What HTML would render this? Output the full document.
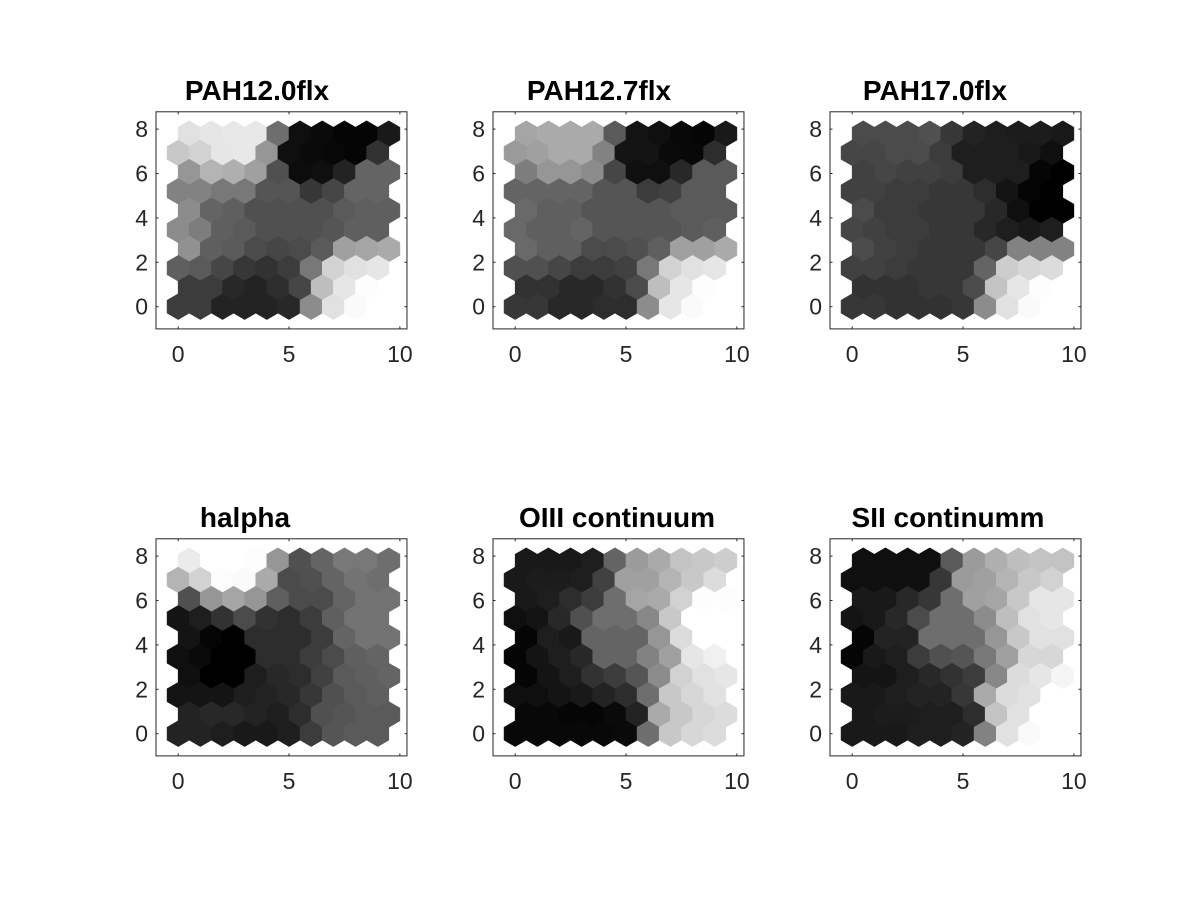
<!DOCTYPE html>
<html><head><meta charset="utf-8"><style>
html,body{margin:0;padding:0;background:#fff;}
svg{display:block;font-family:"Liberation Sans",Arial,sans-serif;}
</style></head><body>
<svg id="fig" width="1200" height="900" viewBox="0 0 1200 900" xmlns="http://www.w3.org/2000/svg">
<rect width="1200" height="900" fill="#fff"/>
</svg>
<script>
// Grey levels (0=black, 255=white), rows listed from top (row 9) to bottom (row 0), 10 columns each
const titles = ["PAH12.0flx","PAH12.7flx","PAH17.0flx","halpha","OIII continuum","SII continumm"];
const xTicks = [0,5,10];
const yTicks = [0,2,4,6,8];
const pah120 = [
[225,230,232,232,110,15,10,5,5,25],
[200,210,230,232,150,15,10,8,5,50],
[150,180,175,160,80,12,15,35,100,100],
[130,130,120,120,85,85,55,70,100,100],
[140,100,95,80,80,80,80,90,95,95],
[140,125,95,90,80,80,80,85,95,95],
[145,95,90,75,70,75,90,160,165,170],
[95,90,70,55,50,60,120,210,225,230],
[60,60,40,35,45,70,190,230,253,255],
[60,60,35,35,35,40,140,225,250,255]];
const pah127 = [
[165,170,170,170,90,20,15,8,5,25],
[155,160,170,170,130,20,20,10,8,45],
[125,150,150,140,70,15,15,40,90,90],
[100,100,100,100,85,85,60,65,90,90],
[105,95,95,85,85,85,85,90,90,90],
[105,95,95,100,85,85,85,85,90,95],
[105,95,95,75,75,80,95,160,160,170],
[80,80,70,60,60,65,120,210,225,230],
[50,50,40,40,50,75,190,230,253,255],
[55,55,40,40,45,45,140,230,250,255]];
const pah170 = [
[75,75,75,80,55,35,30,28,28,25],
[70,70,75,75,60,30,30,30,25,15],
[65,70,65,65,60,30,30,30,5,0],
[65,65,60,60,55,55,45,20,5,0],
[75,60,60,55,55,55,40,15,0,0],
[70,65,60,60,55,55,40,30,25,30],
[75,65,60,55,55,55,70,130,130,130],
[65,65,60,55,55,55,100,205,215,220],
[50,50,50,55,55,75,195,230,253,255],
[55,55,50,50,50,55,140,225,250,255]];
const halpha = [
[235,255,255,252,150,80,100,120,120,110],
[180,210,252,250,170,75,80,100,115,110],
[80,150,165,150,95,75,75,100,115,115],
[20,30,50,75,50,45,60,95,115,115],
[20,5,0,45,45,45,60,100,115,115],
[15,10,0,0,45,45,60,75,95,100],
[15,0,0,30,40,45,65,90,95,100],
[20,20,20,30,35,40,55,80,90,95],
[35,40,40,35,30,45,80,85,90,90],
[35,35,30,25,25,30,60,85,90,90]];
const oiii = [
[25,25,25,30,100,155,170,195,200,205],
[25,28,28,30,65,160,160,180,200,220],
[25,30,45,60,110,165,170,210,253,253],
[15,20,40,80,110,110,135,200,255,255],
[5,30,25,100,100,100,150,220,255,255],
[5,20,30,40,100,100,130,160,230,240],
[5,20,30,50,60,85,140,210,225,230],
[15,15,20,25,35,45,110,200,215,225],
[8,8,5,5,10,35,170,200,215,220],
[8,8,8,8,8,10,110,200,215,220]];
const sii = [
[15,15,15,15,90,155,175,190,195,195],
[15,15,15,15,55,155,160,180,200,210],
[25,25,40,55,110,160,165,200,230,230],
[20,25,40,75,110,110,140,190,225,230],
[5,35,35,110,110,110,150,200,225,225],
[5,25,30,60,80,85,120,160,215,215],
[20,20,30,40,50,60,135,220,230,245],
[25,25,30,35,35,55,170,220,225,255],
[25,28,28,30,30,45,195,225,255,255],
[25,25,25,30,30,35,130,225,250,255]];
const planes = [pah120,pah127,pah170,halpha,oiii,sii];

const NS = "http://www.w3.org/2000/svg";
const svg = document.getElementById("fig");
const panelLeft = [156,493,830,156,493,830];
const panelY0 = [306.7,306.7,306.7,733.7,733.7,733.7];
const titleX = [257,599,935,245,617,948];
const SX = 22.17, SY = 22.2;
function mk(tag, attrs, parent){const e=document.createElementNS(NS,tag);for(const k in attrs)e.setAttribute(k,attrs[k]);parent.appendChild(e);return e;}

planes.forEach((data,p)=>{
  const L = panelLeft[p], Y0 = panelY0[p];
  const X = x => L + (x+1)*SX;
  const Y = y => Y0 - y*SY;
  const g = mk("g",{},svg);
  
  
  const nRows = data.length;
  data.forEach((row,ri)=>{
    const r = nRows-1-ri;
    row.forEach((v,c)=>{
      const cx = c + 0.5*(r%2), cy = r*0.8660254;
      const pts = [[0,0.57735],[0.5,0.288675],[0.5,-0.288675],[0,-0.57735],[-0.5,-0.288675],[-0.5,0.288675]]
        .map(d=>X(cx+d[0]).toFixed(2)+","+Y(cy+d[1]).toFixed(2)).join(" ");
      const col = "rgb("+v+","+v+","+v+")";
      const h = mk("polygon",{points:pts,fill:col,stroke:col,"stroke-width":0.6},g);
      
      
    });
  });
  const top = Y(8.78), bot = Y(-1), left = X(-1), right = X(10.32);
  const box = mk("rect",{x:left,y:top,width:right-left,height:bot-top,fill:"none",stroke:"#262626","stroke-width":1},g);
  
  
  xTicks.forEach(t=>{
    const x = X(t);
    mk("line",{x1:x,x2:x,y1:bot,y2:bot-2.5,stroke:"#262626"},g);
    mk("line",{x1:x,x2:x,y1:top,y2:top+2.5,stroke:"#262626"},g);
    const tx = mk("text",{x:x,y:bot+33,"text-anchor":"middle","font-size":23,fill:"#262626"},g);
    tx.textContent = t;
    
    
  });
  yTicks.forEach(t=>{
    const y = Y(t);
    mk("line",{x1:left,x2:left+2.5,y1:y,y2:y,stroke:"#262626"},g);
    mk("line",{x1:right,x2:right-2.5,y1:y,y2:y,stroke:"#262626"},g);
    const ty = mk("text",{x:left-8,y:y+8,"text-anchor":"end","font-size":23,fill:"#262626"},g);
    ty.textContent = t;
    
    
  });
  const tt = mk("text",{x:titleX[p],y:top-12,"text-anchor":"middle","font-size":28,"font-weight":"bold",fill:"#000"},g);
  tt.textContent = titles[p];
  
  
});
</script>
</body></html>
